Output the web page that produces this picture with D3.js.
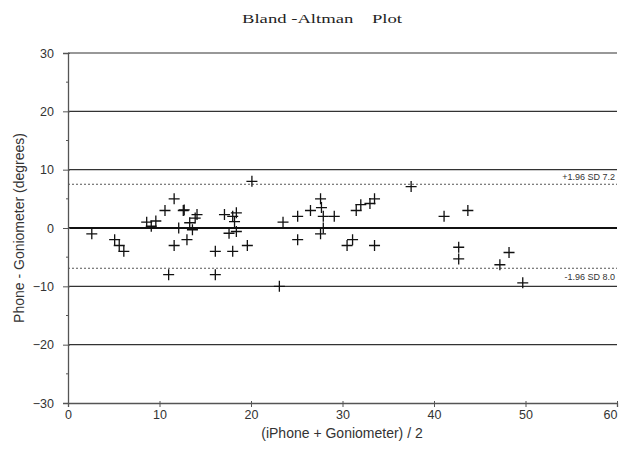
<!DOCTYPE html>
<html>
<head>
<meta charset="UTF-8">
<title>Bland-Altman Plot</title>
<script src="https://d3js.org/d3.v7.min.js"></script>
<style>
  body { margin: 0; background: #fff; }
  svg { display: block; }
  .tick text { font-family: "Liberation Sans", Arial, sans-serif; font-size: 12.5px; fill: #333; }
</style>
</head>
<body>
<svg id="chart"></svg>
<script>
  // Mittelwert (iPhone + Goniometer)/2 und Differenz
  const means = [2.6, 5.1, 5.6, 6.1, 8.6, 9.1, 9.6, 10.6, 11.6, 12.6, 12.1, 11.6, 11.0,
    13.0, 13.3, 13.6, 13.9, 14.1, 12.7, 16.1, 16.1, 17.1, 17.6, 18.0, 18.4, 18.2, 18.4, 18.0,
    19.6, 20.1, 23.1, 23.5, 25.1, 25.1, 26.5, 27.6, 27.7, 27.9, 29.1, 27.6, 27.9,
    30.5, 31.1, 31.5, 32.0, 33.0, 33.5, 33.5, 37.5, 41.1, 43.7, 42.7, 42.7, 47.2, 48.2, 49.7];
  const diffs = [-1, -2, -3, -4, 1, 0.3, 1.2, 3, 5, 3, 0, -3, -8,
    -2, 0.9, -0.3, 1.7, 2.3, 3.1, -4, -8, 2.3, -0.9, 2, 2.6, 1.1, -0.6, -4,
    -3, 8, -10, 1, 2, -2, 3, 5, 3.5, 2, 2, -1, 0,
    -3, -2, 3, 4, 4.2, 5, -3, 7.1, 2, 3, -3.3, -5.3, -6.3, -4.2, -9.4];

  const xTicks = [0, 10, 20, 30, 40, 50, 60];
  const yTicks = [-30, -20, -10, 0, 10, 20, 30];
  const yMinorTicks = [-25, -15, -5, 5, 15, 25];
  const gridLines = [30, 20, 10, -10, -20];
  const limits = [
    { value: 7.5, label: "+1.96 SD 7.2" },
    { value: -6.9, label: "-1.96 SD 8.0" }
  ];

  const width = 622, height = 450;
  const svg = d3.select("#chart").attr("width", width).attr("height", height);

  const x = d3.scaleLinear().domain([0, 60]).range([68, 617]);
  const y = d3.scaleLinear().domain([-30, 30]).range([403, 53]);

  // Titel (im Original mit ungleichmäßigen Abständen)
  svg.append("text")
    .attr("x", 322).attr("y", 23)
    .attr("text-anchor", "middle")
    .attr("font-family", "'Liberation Serif', 'Times New Roman', serif")
    .attr("font-size", 13)
    .attr("fill", "#222")
    .style("white-space", "pre")
    .attr("textLength", 160)
    .attr("lengthAdjust", "spacingAndGlyphs")
    .text("Bland -Altman    Plot");

  // Gitterlinien
  svg.selectAll("line.grid").data(gridLines).join("line")
    .attr("class", "grid")
    .attr("x1", x(0)).attr("x2", x(60))
    .attr("y1", d => y(d)).attr("y2", d => y(d))
    .attr("stroke", "#333").attr("stroke-width", 1.2);

  // Übereinstimmungsgrenzen
  svg.selectAll("line.limit").data(limits).join("line")
    .attr("class", "limit")
    .attr("x1", x(0)).attr("x2", x(60))
    .attr("y1", d => y(d.value)).attr("y2", d => y(d.value))
    .attr("stroke", "#555").attr("stroke-width", 1)
    .attr("stroke-dasharray", "2,2");

  svg.selectAll("text.limit").data(limits).join("text")
    .attr("class", "limit")
    .attr("x", x(60) - 2)
    .attr("y", d => y(d.value) + (d.value > 0 ? -4 : 12))
    .attr("text-anchor", "end")
    .attr("font-family", "'Liberation Sans', Arial, sans-serif")
    .attr("font-size", 9)
    .attr("fill", "#333")
    .text(d => d.label);

  // Nulllinie
  svg.append("line")
    .attr("x1", x(0)).attr("x2", x(60))
    .attr("y1", y(0)).attr("y2", y(0))
    .attr("stroke", "#111").attr("stroke-width", 2.2);

  // Achsen
  const xAxis = svg.append("g")
    .attr("transform", `translate(0,${y(-30)})`)
    .call(d3.axisBottom(x).tickValues(xTicks).tickSize(4).tickPadding(3));
  xAxis.select(".domain").attr("stroke", "#555").attr("stroke-width", 1.3);
  xAxis.selectAll(".tick line").attr("stroke", "#555").attr("y1", -2);
  xAxis.selectAll(".tick text").filter(d => d === 60).attr("dx", -7);

  const yAxis = svg.append("g")
    .attr("transform", `translate(${x(0)},0)`)
    .call(d3.axisLeft(y).tickValues(yTicks).tickSize(5).tickPadding(9));
  yAxis.select(".domain").attr("stroke", "#555").attr("stroke-width", 1.3);
  yAxis.selectAll(".tick line").attr("stroke", "#555").attr("x1", 2);

  svg.append("g").selectAll("line").data(yMinorTicks).join("line")
    .attr("x1", x(0) - 2).attr("x2", x(0) + 1)
    .attr("y1", d => y(d)).attr("y2", d => y(d))
    .attr("stroke", "#555").attr("stroke-width", 1);

  // Achsenbeschriftungen
  svg.append("text")
    .attr("x", 342).attr("y", 438)
    .attr("text-anchor", "middle")
    .attr("font-family", "'Liberation Sans', Arial, sans-serif")
    .attr("font-size", 14).attr("fill", "#333")
    .text("(iPhone + Goniometer) / 2");

  svg.append("text")
    .attr("transform", `translate(24,${y(0)}) rotate(-90)`)
    .attr("text-anchor", "middle")
    .attr("font-family", "'Liberation Sans', Arial, sans-serif")
    .attr("font-size", 14).attr("fill", "#333")
    .text("Phone - Goniometer (degrees)");

  // Messpunkte als Pluszeichen
  const pts = means.map((m, i) => ({ m, d: diffs[i] }));
  const arm = 5.5;
  svg.append("g").selectAll("path").data(pts).join("path")
    .attr("d", p => {
      const cx = x(p.m), cy = y(p.d);
      return `M${cx - arm},${cy}H${cx + arm}M${cx},${cy - arm}V${cy + arm}`;
    })
    .attr("stroke", "#111").attr("stroke-width", 1.3).attr("fill", "none");
</script>
</body>
</html>
